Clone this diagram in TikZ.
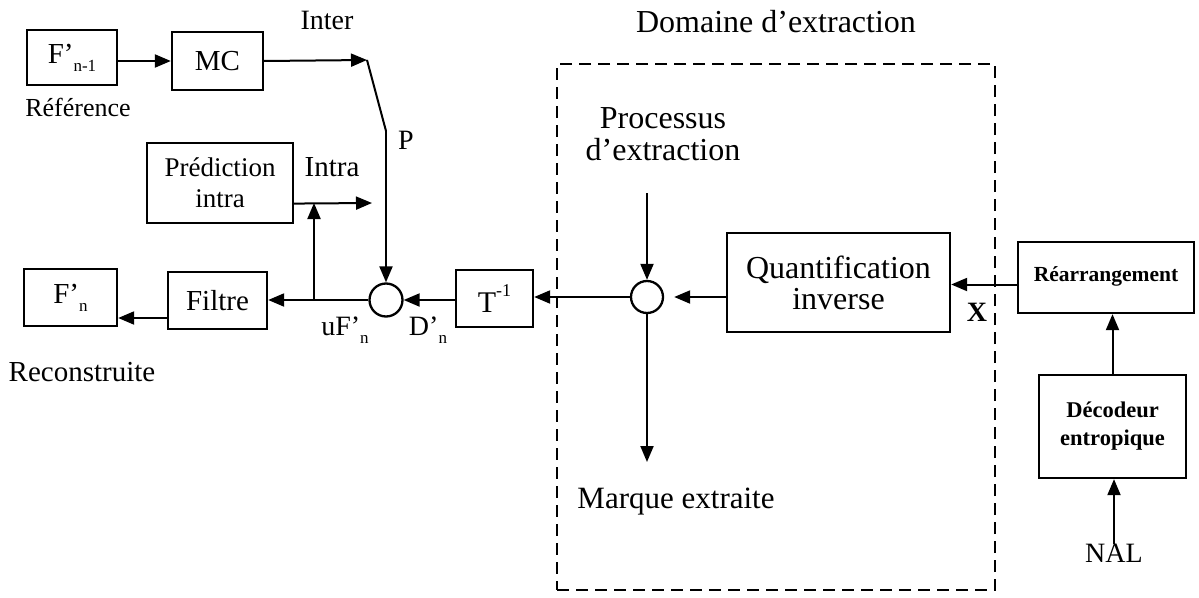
\documentclass[tikz,border=0pt]{standalone}
\usepackage{fontspec}
\setmainfont{Liberation Serif}
\usetikzlibrary{arrows.meta,calc}
\newcommand\fsz[1]{\fontsize{#1}{#1}\selectfont}
\newcommand\subsc[1]{\raisebox{-0.28em}{\fsz{17}#1}}
\begin{document}
\begin{tikzpicture}[x=1pt,y=-1pt,
  box/.style={draw,line width=2.3pt,inner sep=0pt,align=center},
  lbl/.style={inner sep=0pt,align=center},
  arr/.style={line width=2pt,-{Triangle[length=16pt,width=13pt]}},
  ln/.style={line width=2pt},
  sumc/.style={draw,circle,line width=2.3pt,inner sep=0pt,minimum size=33pt},
  dom/.style={draw,line width=2pt,dash pattern=on 12pt off 7pt,inner sep=0pt}]
\useasboundingbox (0,0) rectangle (1199,597);

% left part
\node[box,minimum width=90pt,minimum height=55pt,font=\fsz{29}] (fn1) at (72,57.5) {F’\subsc{n-1}};
\node[box,minimum width=91pt,minimum height=58pt,font=\fsz{29}] (mc) at (217.5,61) {MC};
\node[lbl,font=\fsz{26}] (ref) at (78,107) {Référence};
\node[lbl,font=\fsz{28}] (inter) at (327,20) {Inter};
\node[box,minimum width=146pt,minimum height=80pt,font={\fontsize{27}{31}\selectfont}] (pred) at (220,183) {Prédiction\\intra};
\node[lbl,font=\fsz{29}] (intra) at (332,167) {Intra};
\node[lbl,font=\fsz{28}] (p) at (406,140) {P};
\node[box,minimum width=93pt,minimum height=57pt,font=\fsz{29}] (fn) at (70.5,297.5) {F’\subsc{n}};
\node[box,minimum width=99pt,minimum height=57pt,font=\fsz{29}] (filtre) at (217.5,300.5) {Filtre};
\node[sumc] (c1) at (386,300) {};
\node[box,minimum width=77pt,minimum height=57pt,font=\fsz{30}] (tinv) at (494.5,298.5) {T\raisebox{0.55em}{\fsz{18}-1}};
\node[lbl,font=\fsz{28}] (uf) at (345,330) {uF’\subsc{n}};
\node[lbl,font=\fsz{28}] (dn) at (428,330) {D’\subsc{n}};
\node[lbl,font=\fsz{29}] (rec) at (82,372) {Reconstruite};

% extraction domain
\node[lbl,font=\fsz{32}] (title) at (776,22) {Domaine d’extraction};
\node[dom,minimum width=438pt,minimum height=526pt] (domain) at (776,327) {};
\node[lbl,font=\fsz{32}] (proc) at (663,134) {Processus\\d’extraction};
\node[sumc,minimum size=32pt] (c2) at (647,297) {};
\node[box,minimum width=223pt,minimum height=99pt,font={\fontsize{32}{31}\selectfont}] (quant) at (838.5,282.5) {Quantification\\inverse};
\node[lbl,font=\fsz{31}] (marque) at (676,502) {Marque extraite};
\node[lbl,font=\bfseries\fsz{28}] (x) at (977,312) {X};

% right part
\node[box,minimum width=176pt,minimum height=71pt,font=\bfseries\fsz{21.5}] (rearr) at (1106,277.5) {\raisebox{6pt}{Réarrangement}};
\node[box,minimum width=147pt,minimum height=103pt,font={\bfseries\fontsize{22.5}{28}\selectfont}] (dec) at (1112.5,426.5) {Décodeur\\entropique};
\node[lbl,font=\fsz{28}] (nal) at (1114,553) {NAL};

% switch coordinates
\coordinate (sw1) at (367,60);
\coordinate (sw2) at (386,131);
\coordinate (intraend) at (372,203);
\coordinate (j1) at (314,300);
\coordinate (procstart) at (647,193);
\coordinate (mkend) at (647,462);

% connectors
\draw[arr] (fn1.east |- mc.west) -- (mc.west);
\draw[arr] (mc.east) -- (sw1);
\draw[ln] (sw1) -- (sw2);
\draw[arr] (sw2) -- (c1.north);
\draw[arr] ($(pred.south east)!0.25!(pred.north east)$) -- (intraend);
\draw[arr] (j1) -- (j1 |- intraend);
\draw[arr] (c1.west) -- (c1.west -| filtre.east);
\draw[arr] (tinv.west |- c1.east) -- (c1.east);
\draw[arr] ([yshift=-17.5pt]filtre.west) -- ([yshift=-17.5pt]filtre.west -| fn.east);
\draw[arr] (c2.west) -- (c2.west -| tinv.east);
\draw[arr] (procstart) -- (c2.north);
\draw[arr] (c2.south) -- (mkend);
\draw[arr,shorten >=10pt] (quant.west |- c2.east) -- (c2.east);
\draw[arr] ([yshift=-7pt]rearr.west) -- ([yshift=-7pt]rearr.west -| quant.east);
\draw[arr] (dec.north) -- (dec.north |- rearr.south);
\draw[arr] (nal.north) -- (nal.north |- dec.south);
\end{tikzpicture}
\end{document}
